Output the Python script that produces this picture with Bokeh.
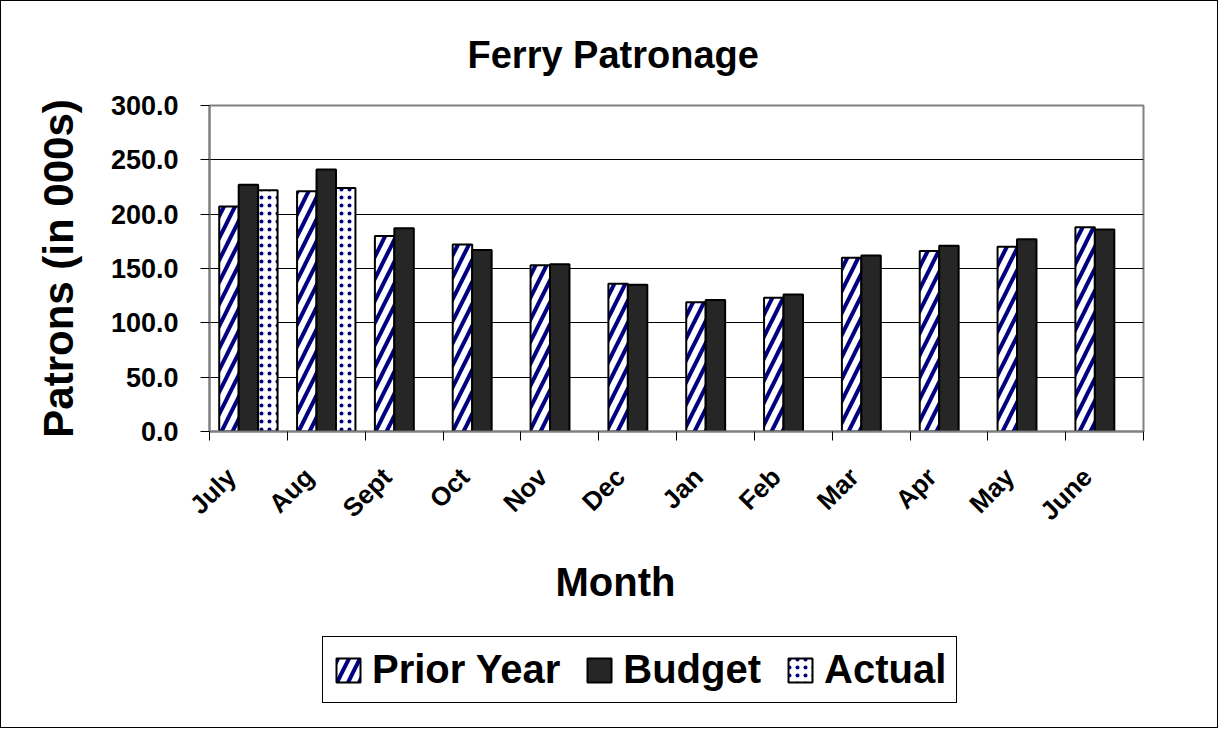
import math
from bokeh.plotting import figure
from bokeh.layouts import column
from bokeh.models import (Range1d, LinearAxis, FixedTicker, NumeralTickFormatter,
                          Legend, LegendItem, Title, ColumnDataSource)
from bokeh.transform import dodge
from bokeh.embed import file_html
from bokeh.resources import INLINE

# ---- data ----
months = ["July", "Aug", "Sept", "Oct", "Nov", "Dec", "Jan", "Feb", "Mar", "Apr", "May", "June"]
prior_year = [207, 221, 180, 172, 153, 136, 119, 123, 160, 166, 170, 188]
budget = [227, 241, 187, 167, 154, 135, 121, 126, 162, 171, 177, 186]
actual_months = ["July", "Aug"]
actual = [222, 224]
y_ticks = [0, 50, 100, 150, 200, 250, 300]

title_text = "Ferry Patronage"
x_title = "Month"
y_title = "Patrons (in 000s)"
series_names = ["Prior Year", "Budget", "Actual"]

FONT = "Liberation Sans"
W = 1216
H_MAIN, H_LEG = 620, 106
N = len(months)
SHIFT = 0.22  # moves the rotated month labels so they end left of the category centre

PY_STYLE = dict(fill_color="white", hatch_pattern="/", hatch_color="#000080",
                hatch_weight=4, hatch_scale=22, line_color="black", line_width=2)
BUD_STYLE = dict(fill_color="#262626", line_color="black", line_width=2)
ACT_STYLE = dict(fill_color="white", hatch_pattern="dot", hatch_color="#000080",
                 hatch_weight=1.5, hatch_scale=8, line_color="black", line_width=2)

# category centres on a numeric axis (category i occupies [i, i+1])
centre = [i + 0.5 for i in range(N)]
act_centre = [months.index(m) + 0.5 for m in actual_months]

src = ColumnDataSource(data=dict(pos=centre, py=prior_year, bud=budget))
src_act = ColumnDataSource(data=dict(pos=act_centre, act=actual))

p = figure(width=W, height=H_MAIN, x_range=Range1d(0, N), y_range=Range1d(0, 300),
           output_backend="svg", toolbar_location=None, x_axis_location=None,
           min_border_left=208, min_border_right=74, min_border_top=103, min_border_bottom=190)
p.background_fill_color = "white"
p.border_fill_color = "white"
p.outline_line_color = "#808080"
p.outline_line_width = 2
p.xgrid.visible = False

# title
p.title = Title(text=title_text, align="left", offset=258, standoff=60,
                text_font=FONT, text_font_size="38px", text_font_style="bold", text_color="black")

# bars
r_py = p.vbar(x=dodge("pos", -0.25), top="py", width=0.25, source=src, **PY_STYLE)
r_bud = p.vbar(x=dodge("pos", 0.0), top="bud", width=0.25, source=src, **BUD_STYLE)
r_act = p.vbar(x=dodge("pos", 0.25), top="act", width=0.25, source=src_act, **ACT_STYLE)

# y axis
ya = p.yaxis[0]
ya.ticker = FixedTicker(ticks=y_ticks)
ya.formatter = NumeralTickFormatter(format="0.0")
ya.axis_line_color = "#808080"
ya.axis_line_width = 2
ya.major_tick_line_color = "black"
ya.major_tick_out = 9
ya.major_tick_in = 0
ya.minor_tick_line_color = None
ya.major_label_text_font = FONT
ya.major_label_text_font_size = "27px"
ya.major_label_text_font_style = "bold"
ya.major_label_text_color = "black"
ya.major_label_standoff = 22
ya.axis_label = y_title
ya.axis_label_text_font = FONT
ya.axis_label_text_font_size = "42px"
ya.axis_label_text_font_style = "bold"
ya.axis_label_text_color = "black"
ya.axis_label_standoff = 26

p.ygrid.grid_line_color = "black"
p.ygrid.grid_line_width = 1
p.ygrid.ticker = FixedTicker(ticks=y_ticks)

# x axis: month labels, with boundary tick marks as minor ticks
p.extra_x_ranges = {"labels": Range1d(SHIFT, N + SHIFT)}
xa = LinearAxis(x_range_name="labels",
                ticker=FixedTicker(ticks=centre, minor_ticks=[i + SHIFT for i in range(N + 1)]),
                major_label_overrides={c: m for c, m in zip(centre, months)},
                axis_line_color="#808080", axis_line_width=2,
                major_tick_line_color=None, major_tick_out=0, major_tick_in=0,
                minor_tick_line_color="black", minor_tick_out=9, minor_tick_in=0,
                major_label_orientation=math.pi / 4,
                major_label_standoff=32, major_label_text_font=FONT,
                major_label_text_font_size="26px", major_label_text_font_style="bold",
                major_label_text_color="black")
p.add_layout(xa, "below")

# x title
p.add_layout(Title(text=x_title, align="left", offset=346, standoff=36,
                   text_font=FONT, text_font_size="40px", text_font_style="bold",
                   text_color="black"), "below")

# legend strip (separate canvas under the chart; its frame is aligned with the chart's)
q = figure(width=W, height=H_LEG, x_range=Range1d(0, 1), y_range=Range1d(0, 1),
           output_backend="svg", toolbar_location=None, x_axis_location=None,
           y_axis_location=None, min_border=0, title=None)
q.outline_line_color = None
q.xgrid.visible = False
q.ygrid.visible = False
l_py = q.vbar(x="pos", top="py", width=0.25, source=src, visible=False, **PY_STYLE)
l_bud = q.vbar(x="pos", top="bud", width=0.25, source=src, visible=False, **BUD_STYLE)
l_act = q.vbar(x="pos", top="act", width=0.25, source=src_act, visible=False, **ACT_STYLE)
legend = Legend(items=[LegendItem(label=series_names[0], renderers=[l_py]),
                       LegendItem(label=series_names[1], renderers=[l_bud]),
                       LegendItem(label=series_names[2], renderers=[l_act])],
                location=(113, 24), orientation="horizontal",
                label_text_font=FONT, label_text_font_size="40px", label_text_font_style="bold",
                label_text_color="black", glyph_width=30, glyph_height=30, label_standoff=9,
                spacing=24, padding=10, margin=0, border_line_color="black",
                border_line_width=1, border_line_alpha=1.0,
                background_fill_color="white", background_fill_alpha=1.0,
                inactive_fill_alpha=0.0)
q.add_layout(legend, "center")

layout = column(p, q, spacing=0)
layout.styles = {"border": "1px solid black"}

open("out.html", "w").write(file_html(layout, INLINE, title="Ferry Patronage"))
